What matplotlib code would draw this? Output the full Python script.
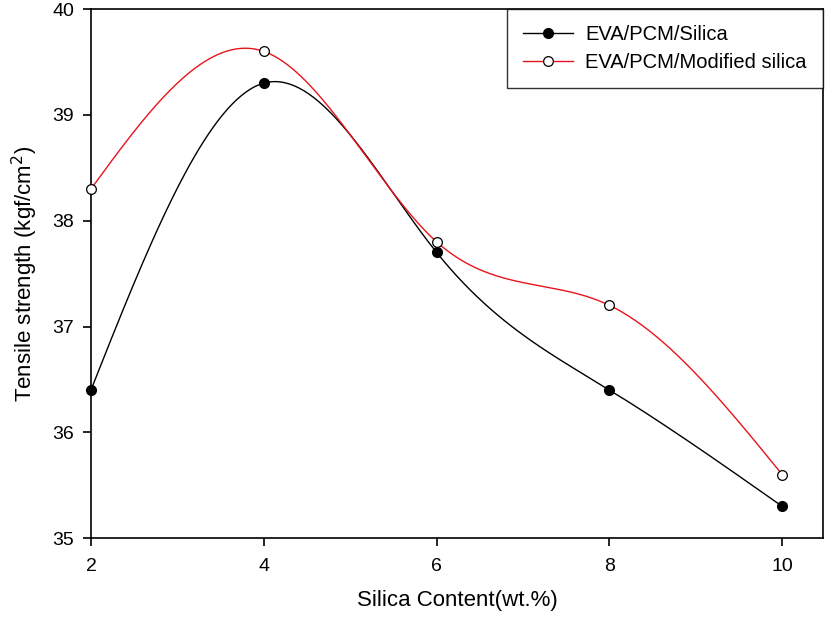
import numpy as np
import matplotlib
matplotlib.use("Agg")
import matplotlib.pyplot as plt

plt.rcParams['font.family'] = ['Liberation Sans', 'DejaVu Sans']

silica_content = [2, 4, 6, 8, 10]
eva_pcm_silica = [36.4, 39.3, 37.7, 36.4, 35.3]
eva_pcm_mod_silica = [38.3, 39.6, 37.8, 37.2, 35.6]
x_ticks = [2, 4, 6, 8, 10]
y_ticks = [35, 36, 37, 38, 39, 40]


def natural_spline(x, y, n=300):
    x = np.asarray(x, float)
    y = np.asarray(y, float)
    k = len(x)
    h = np.diff(x)
    A = np.zeros((k, k))
    b = np.zeros(k)
    A[0, 0] = 1
    A[-1, -1] = 1
    for i in range(1, k - 1):
        A[i, i - 1] = h[i - 1]
        A[i, i] = 2 * (h[i - 1] + h[i])
        A[i, i + 1] = h[i]
        b[i] = 6 * ((y[i + 1] - y[i]) / h[i] - (y[i] - y[i - 1]) / h[i - 1])
    M = np.linalg.solve(A, b)
    xs = np.linspace(x[0], x[-1], n)
    idx = np.clip(np.searchsorted(x, xs) - 1, 0, k - 2)
    x0, x1 = x[idx], x[idx + 1]
    hh = x1 - x0
    t0 = x1 - xs
    t1 = xs - x0
    ys = (M[idx] * t0 ** 3 / (6 * hh) + M[idx + 1] * t1 ** 3 / (6 * hh)
          + (y[idx] / hh - M[idx] * hh / 6) * t0
          + (y[idx + 1] / hh - M[idx + 1] * hh / 6) * t1)
    return xs, ys


fig = plt.figure(figsize=(8.27, 6.25), dpi=100)
ax = fig.add_axes([0.110, 0.139, 0.885, 0.8465])

xs, ys = natural_spline(silica_content, eva_pcm_silica)
ax.plot(xs, ys, color='black', lw=1.0)
xs2, ys2 = natural_spline(silica_content, eva_pcm_mod_silica)
ax.plot(xs2, ys2, color='#e8141b', lw=1.0)

ax.plot(silica_content, eva_pcm_silica, ls='none', marker='o', ms=7,
        mfc='black', mec='black', clip_on=False, zorder=5)
ax.plot(silica_content, eva_pcm_mod_silica, ls='none', marker='o', ms=7,
        mfc='white', mec='black', mew=0.9, clip_on=False, zorder=5)

h1, = ax.plot([], [], color='black', lw=1.0, marker='o', ms=7, mfc='black', mec='black')
h2, = ax.plot([], [], color='#e8141b', lw=1.0, marker='o', ms=7, mfc='white', mec='black', mew=0.9)
leg = ax.legend([h1, h2], ['EVA/PCM/Silica', 'EVA/PCM/Modified silica'],
                loc='upper right', fontsize=14.5, frameon=True, fancybox=False,
                borderaxespad=0, edgecolor='black', handlelength=2.5,
                handletextpad=0.6, borderpad=0.8, labelspacing=0.45)
leg.get_frame().set_linewidth(1.0)

ax.set_xlim(2, 10.47)
ax.set_ylim(35, 40)
ax.set_xticks(x_ticks)
ax.set_yticks(y_ticks)
ax.tick_params(direction='out', length=6, width=1.2, labelsize=14, pad=8)
ax.tick_params(axis='y', pad=6)
for s in ax.spines.values():
    s.set_linewidth(1.2)

ax.set_xlabel('Silica Content(wt.%)', fontsize=16, labelpad=11)
ax.set_ylabel('Tensile strength (kgf/cm$^2$)', fontsize=16, labelpad=9)

fig.savefig('out.png', dpi=100)
